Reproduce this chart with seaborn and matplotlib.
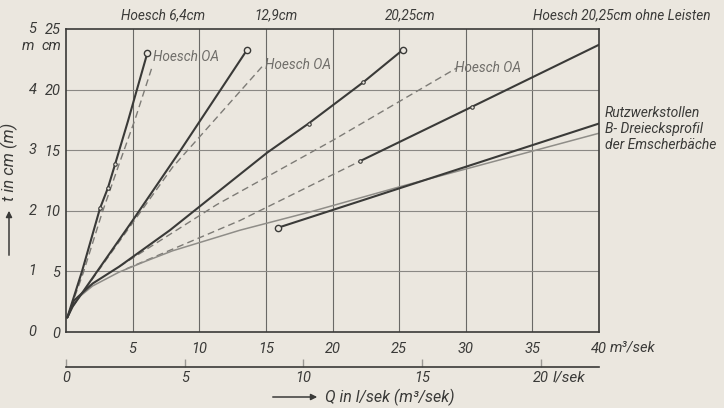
import matplotlib
matplotlib.use("Agg")
import matplotlib.pyplot as plt
import seaborn as sns

# ---------------------------------------------------------------
# data: Q in m3/sek (bottom scale), t in cm
# ---------------------------------------------------------------
h64_q = [0.1, 1.2, 2.55, 3.15, 3.7, 4.65, 6.1]
h64_t = [1.2, 5.0, 10.2, 11.9, 13.9, 17.4, 23.0]
h64oa_q = [0.1, 1.3, 2.7, 4.0, 5.2, 6.5]
h64oa_t = [1.2, 4.9, 9.8, 13.9, 17.6, 22.0]

h129_q = [0.1, 0.5, 5.0, 8.6, 13.6]
h129_t = [1.2, 2.1, 9.2, 15.0, 23.3]
h129oa_q = [0.1, 0.5, 5.0, 8.0, 14.8]
h129oa_t = [1.2, 2.1, 9.0, 13.6, 22.0]

h2025_q = [0.1, 0.6, 2.0, 4.0, 7.8, 15.1, 18.2, 22.3, 25.3]
h2025_t = [1.2, 2.6, 4.0, 5.4, 8.4, 14.8, 17.2, 20.6, 23.3]
h2025oa_q = [4.0, 11.3, 20.0, 29.35]
h2025oa_t = [5.4, 10.5, 15.8, 21.8]

ohne_dash_q = [4.5, 13.06, 22.07]
ohne_dash_t = [5.2, 9.2, 14.1]
ohne_q = [22.07, 30.5, 40.0]
ohne_t = [14.1, 18.6, 23.7]

rutz_q = [15.9, 40.0]
rutz_t = [8.6, 17.2]

dreieck_q = [0.1, 0.5, 1.0, 2.0, 4.0, 6.0, 8.0, 13.06, 18.3, 25.1, 40.0]
dreieck_t = [1.2, 2.2, 2.9, 3.8, 4.95, 5.85, 6.7, 8.4, 9.9, 12.0, 16.4]

q_ticks = [5, 10, 15, 20, 25, 30, 35, 40]
t_ticks = [0, 5, 10, 15, 20, 25]
m_labels = ["0", "1", "2", "3", "4", "5"]
ls_ticks = [0, 5, 10, 15, 20]

PAPER = "#ebe7df"
INK = "#3a3a38"
GREY = "#7d7b76"
FONT = ["Roboto", "DejaVu Sans"]

sns.set_theme(style="white")
plt.rcParams["font.family"] = FONT
plt.rcParams["font.style"] = "italic"

fig = plt.figure(figsize=(7.24, 4.08), dpi=100, facecolor=PAPER)
ax = fig.add_axes([66 / 724, 76 / 408, 533 / 724, 303 / 408])
ax.set_facecolor(PAPER)

# grid
for v in q_ticks[:-1]:
    ax.axvline(v, color="#6a6966", lw=0.8, zorder=1)
for h in t_ticks[1:-1]:
    ax.axhline(h, color="#8a8884", lw=0.8, zorder=1)

# curves
solid = dict(color=INK, lw=1.5, sort=False, estimator=None, ax=ax, zorder=3)
dash = dict(color=GREY, lw=1.0, sort=False, estimator=None, ax=ax,
            dashes=[(5, 3)], style=0, legend=False, zorder=2)

sns.lineplot(x=h64_q, y=h64_t, **solid)
sns.lineplot(x=h64oa_q, y=h64oa_t, **dash)
sns.lineplot(x=h129_q, y=h129_t, **solid)
sns.lineplot(x=h129oa_q, y=h129oa_t, **dash)
sns.lineplot(x=h2025_q, y=h2025_t, **solid)
sns.lineplot(x=h2025oa_q, y=h2025oa_t, **dash)
sns.lineplot(x=ohne_dash_q, y=ohne_dash_t, **dash)
sns.lineplot(x=ohne_q, y=ohne_t, **solid)
sns.lineplot(x=rutz_q, y=rutz_t, **solid)
sns.lineplot(x=dreieck_q, y=dreieck_t, color="#8f8d88", lw=1.1,
             sort=False, estimator=None, ax=ax, zorder=2)

# measuring points
mk = dict(marker="o", ms=4.5, mfc=PAPER, mec=INK, mew=1.0, ls="none", zorder=4)
ax.plot(h64_q[-1:], h64_t[-1:], **mk)
ax.plot(h129_q[-1:], h129_t[-1:], **mk)
ax.plot(h2025_q[-1:], h2025_t[-1:], **mk)
ax.plot(rutz_q[:1], rutz_t[:1], **mk)
small = dict(marker="o", ms=2.5, mfc=PAPER, mec=INK, mew=0.8, ls="none", zorder=4)
ax.plot(h64_q[2:5], h64_t[2:5], **small)
ax.plot(h2025_q[6:8], h2025_t[6:8], **small)
ax.plot(ohne_q[:2], ohne_t[:2], **small)

ax.set_xlim(0, 40)
ax.set_ylim(0, 25)
for s in ax.spines.values():
    s.set_color(INK)
    s.set_linewidth(1.2)

ax.set_xticks(q_ticks)
ax.set_xticklabels([str(v) for v in q_ticks])
ax.set_yticks(t_ticks)
ax.set_yticklabels([str(v) for v in t_ticks])
ax.tick_params(axis="x", length=0, pad=7, labelsize=10.5, labelcolor=INK)
ax.tick_params(axis="y", length=0, pad=4, labelsize=10.5, labelcolor=INK)

# metre column on the left
for val, lab in zip(t_ticks, m_labels):
    ax.text(-0.055, val, lab, transform=ax.get_yaxis_transform(),
            ha="right", va="center", fontsize=10.5, color=INK)
ax.text(-0.06, 23.6, "m", transform=ax.get_yaxis_transform(),
        ha="right", va="center", fontsize=10.5, color=INK)
ax.text(-0.008, 23.6, "cm", transform=ax.get_yaxis_transform(),
        ha="right", va="center", fontsize=10.5, color=INK)

# second Q scale in l/sek
ax2 = ax.twiny()
ax2.set_xlim(0, 533 / 23.75)
for name in ["top", "left", "right"]:
    ax2.spines[name].set_visible(False)
ax2.spines["bottom"].set_position(("outward", 25))
ax2.spines["bottom"].set_color(INK)
ax2.spines["bottom"].set_linewidth(1.2)
ax2.xaxis.set_ticks_position("bottom")
ax2.xaxis.set_label_position("bottom")
ax2.set_xticks(ls_ticks)
ax2.set_xticklabels([str(v) for v in ls_ticks])
ax2.tick_params(axis="x", direction="in", length=6, width=1, color="#9a9893",
                pad=3, labelsize=10.5, labelcolor=INK)

# units and axis titles
fig.text(610 / 724, 1 - 347 / 408, "m³/sek", ha="left", va="center", fontsize=10.5, color=INK)
fig.text(553 / 724, 1 - 378 / 408, "l/sek", ha="left", va="center", fontsize=11, color=INK)
fig.text(325 / 724, 1 - 397 / 408, "Q in l/sek (m³/sek)", ha="left", va="center",
         fontsize=11.5, color=INK)
fig.add_artist(matplotlib.patches.FancyArrowPatch(
    (270 / 724, 1 - 397 / 408), (320 / 724, 1 - 397 / 408), transform=fig.transFigure,
    arrowstyle="-|>", mutation_scale=9, color=INK, lw=1.1))
fig.text(9 / 724, 1 - 162 / 408, "t in cm (m)", ha="center", va="center",
         rotation=90, fontsize=12, color=INK)
fig.add_artist(matplotlib.patches.FancyArrowPatch(
    (9 / 724, 1 - 258 / 408), (9 / 724, 1 - 208 / 408), transform=fig.transFigure,
    arrowstyle="-|>", mutation_scale=9, color=INK, lw=1.1))

# curve names above the frame
for xp, txt in [(163, "Hoesch 6,4cm"), (276, "12,9cm"), (410, "20,25cm"),
                (622, "Hoesch 20,25cm ohne Leisten")]:
    fig.text(xp / 724, 1 - 15 / 408, txt, ha="center", va="center", fontsize=9.8, color=INK)

# Hoesch OA labels
for xp, yp in [(153, 57), (265, 65), (455, 68)]:
    fig.text(xp / 724, 1 - yp / 408, "Hoesch OA", ha="left", va="center",
             fontsize=9.8, color="#6f6d69")

for yp, txt in [(113, "Rutzwerkstollen"), (129, "B- Dreiecksprofil"),
                (145, "der Emscherbäche")]:
    fig.text(605 / 724, 1 - yp / 408, txt, ha="left", va="center", fontsize=10, color=INK)

fig.savefig("out.png", dpi=100, facecolor=PAPER)
